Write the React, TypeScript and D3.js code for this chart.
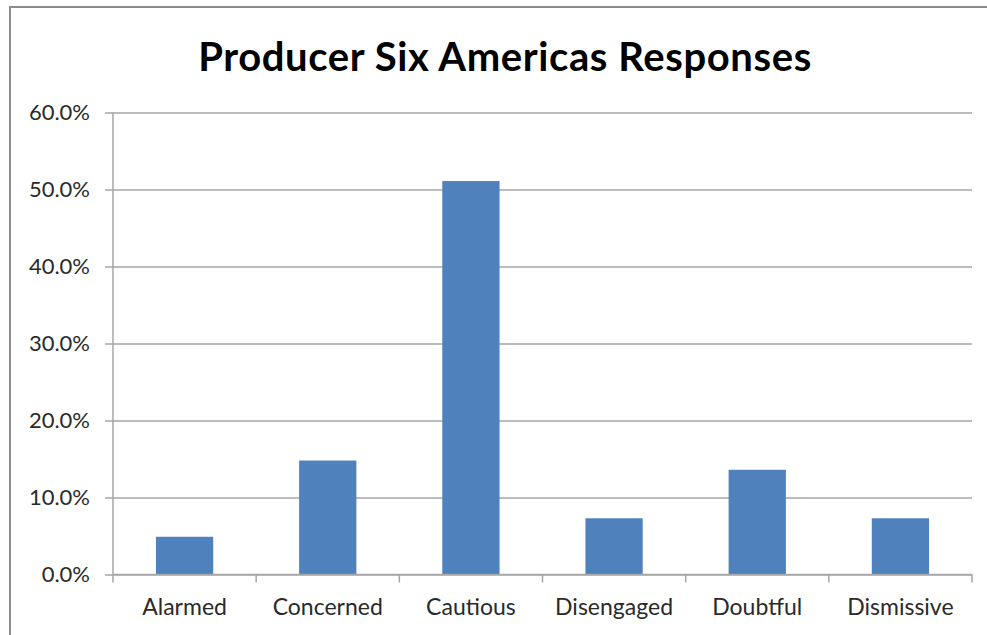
import React, { useEffect, useRef } from 'react';
import * as d3 from 'd3';

const categories = ['Alarmed', 'Concerned', 'Cautious', 'Disengaged', 'Doubtful', 'Dismissive'];
const responses = [0.049, 0.148, 0.511, 0.073, 0.136, 0.073];
const yTicks = [0, 0.1, 0.2, 0.3, 0.4, 0.5, 0.6];

const W = 987;
const H = 635;
const FONT = 'Lato, "Open Sans", sans-serif';

const App: React.FC = () => {
    const svgRef = useRef<SVGSVGElement | null>(null);

    useEffect(() => {
        document.body.style.margin = '0';
        if (!svgRef.current) return;
        const svg = d3.select(svgRef.current);
        svg.selectAll('*').remove();

        const left = 113, right = 972, top = 112.5, bottom = 574.5;

        svg.append('rect').attr('width', W).attr('height', H).attr('fill', '#fff');
        // chart frame
        svg.append('path')
            .attr('d', `M10,${H} V7 H${W}`)
            .attr('fill', 'none')
            .attr('stroke', '#8a8a8a')
            .attr('stroke-width', 2);

        svg.append('text')
            .attr('x', 505)
            .attr('y', 71)
            .attr('text-anchor', 'middle')
            .style('font-family', FONT)
            .style('font-weight', 'bold')
            .style('font-size', '40px')
            .style('letter-spacing', '0.6px')
            .attr('fill', '#000')
            .text('Producer Six Americas Responses');

        const x = d3.scaleBand<string>()
            .domain(categories)
            .range([left, right])
            .paddingInner(0.6)
            .paddingOuter(0.3);

        const y = d3.scaleLinear().domain([0, 0.6]).range([bottom, top]);

        // gridlines + y ticks
        const yAxis = d3.axisLeft(y)
            .tickValues(yTicks)
            .tickSize(-(right - left))
            .tickPadding(23)
            .tickFormat(d3.format('.1%'));
        const gy = svg.append('g').attr('transform', `translate(${left},0)`).call(yAxis);
        gy.select('.domain').remove();
        gy.selectAll('.tick line')
            .attr('x1', -8)
            .attr('stroke', '#a6a6a6')
            .attr('stroke-width', 1.5);
        gy.selectAll('.tick text')
            .style('font-family', FONT)
            .style('font-size', '22px')
            .attr('fill', '#2a2a2a');

        // bars
        svg.append('g')
            .selectAll('rect')
            .data(categories)
            .enter()
            .append('rect')
            .attr('x', d => x(d)!)
            .attr('width', x.bandwidth())
            .attr('y', (d, i) => y(responses[i]))
            .attr('height', (d, i) => bottom - y(responses[i]))
            .attr('fill', '#4f81bd');

        // y axis line
        svg.append('line')
            .attr('x1', left).attr('x2', left)
            .attr('y1', top).attr('y2', bottom)
            .attr('stroke', '#a6a6a6')
            .attr('stroke-width', 1.5);

        // x axis with category boundary ticks
        svg.append('line')
            .attr('x1', left).attr('x2', right)
            .attr('y1', bottom).attr('y2', bottom)
            .attr('stroke', '#a6a6a6')
            .attr('stroke-width', 1.5);
        const step = (right - left) / categories.length;
        const bounds = d3.range(categories.length + 1).map(i => left + i * step);
        svg.append('g')
            .selectAll('line')
            .data(bounds)
            .enter()
            .append('line')
            .attr('x1', d => d).attr('x2', d => d)
            .attr('y1', bottom).attr('y2', bottom + 8)
            .attr('stroke', '#a6a6a6')
            .attr('stroke-width', 1.5);

        svg.append('g')
            .selectAll('text')
            .data(categories)
            .enter()
            .append('text')
            .attr('x', d => x(d)! + x.bandwidth() / 2)
            .attr('y', 615)
            .attr('text-anchor', 'middle')
            .style('font-family', FONT)
            .style('font-size', '23px')
            .attr('fill', '#2a2a2a')
            .text(d => d);
    }, []);

    return <svg ref={svgRef} width={W} height={H} style={{ display: 'block' }} />;
};

export default App;
